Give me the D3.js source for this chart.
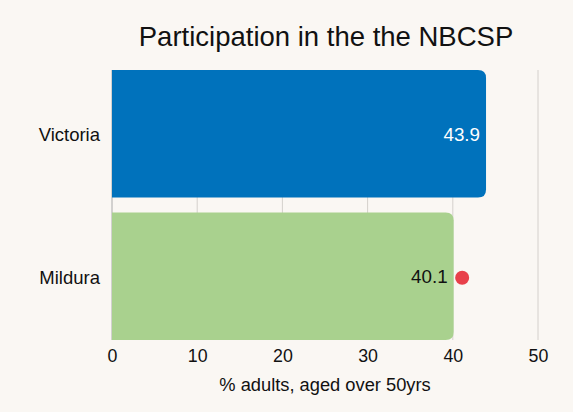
<!DOCTYPE html>
<html>
<head>
<meta charset="utf-8">
<script src="https://cdn.jsdelivr.net/npm/d3@7"></script>
<style>
  html, body { margin: 0; padding: 0; background: #faf7f3; }
  svg { display: block; font-family: "Liberation Sans", Arial, sans-serif; }
</style>
</head>
<body>
<svg id="chart" width="573" height="412"></svg>
<script>
var categories = ['Victoria', 'Mildura'];
var values = [43.9, 40.1];
var barColors = ['#0072bc', '#a9d18e'];
var labelColors = ['#ffffff', '#111111'];
var markerValue = 41.1;   // red dot next to Mildura
var xTicks = [0, 10, 20, 30, 40, 50];

var svg = d3.select('#chart');

var x = d3.scaleLinear().domain([0, 50]).range([112, 538]);
var y = d3.scaleBand().domain(categories).range([70, 340]).paddingInner(0.104).paddingOuter(0);

svg.append('rect').attr('width', 573).attr('height', 412).attr('fill', '#faf7f3');

// title
svg.append('text')
    .attr('x', 326).attr('y', 46)
    .attr('text-anchor', 'middle')
    .attr('font-size', 27.5)
    .attr('fill', '#111')
    .text('Participation in the the NBCSP');

// gridlines
svg.selectAll('line.grid')
    .data(xTicks)
    .enter()
    .append('line')
    .attr('class', 'grid')
    .attr('x1', function(d){ return x(d); })
    .attr('x2', function(d){ return x(d); })
    .attr('y1', 70).attr('y2', 340)
    .attr('stroke', function(d){ return d == 0 ? '#aaa' : '#d4d0cc'; })
    .attr('stroke-width', 1);

// bars, rounded on the right side only
var r = 8;
svg.selectAll('path.bar')
    .data(values)
    .enter()
    .append('path')
    .attr('class', 'bar')
    .attr('fill', function(d, i){ return barColors[i]; })
    .attr('d', function(d, i){
        var x0 = x(0), x1 = x(d), y0 = y(categories[i]), h = y.bandwidth();
        return 'M' + x0 + ',' + y0 +
               'H' + (x1 - r) +
               'Q' + x1 + ',' + y0 + ' ' + x1 + ',' + (y0 + r) +
               'V' + (y0 + h - r) +
               'Q' + x1 + ',' + (y0 + h) + ' ' + (x1 - r) + ',' + (y0 + h) +
               'H' + x0 + 'Z';
    });

// value labels
svg.selectAll('text.val')
    .data(values)
    .enter()
    .append('text')
    .attr('class', 'val')
    .attr('x', function(d){ return x(d) - 6; })
    .attr('y', function(d, i){ return y(categories[i]) + y.bandwidth() / 2 + 7; })
    .attr('text-anchor', 'end')
    .attr('font-size', 18.8)
    .attr('fill', function(d, i){ return labelColors[i]; })
    .text(function(d){ return d.toFixed(1); });

// marker
svg.append('circle')
    .attr('cx', x(markerValue))
    .attr('cy', y('Mildura') + y.bandwidth() / 2 + 1.5)
    .attr('r', 7)
    .attr('fill', '#e8404a');

// category labels
svg.selectAll('text.cat')
    .data(categories)
    .enter()
    .append('text')
    .attr('class', 'cat')
    .attr('x', 100)
    .attr('y', function(d){ return y(d) + y.bandwidth() / 2 + 7.5; })
    .attr('text-anchor', 'end')
    .attr('font-size', 18.5)
    .attr('fill', '#111')
    .text(function(d){ return d; });

// x axis
var axis = svg.append('g')
    .attr('transform', 'translate(0,340)')
    .call(d3.axisBottom(x).tickValues(xTicks).tickSize(0).tickPadding(9));
axis.select('.domain').remove();
axis.selectAll('text')
    .attr('font-size', 17.8)
    .attr('font-family', '"Liberation Sans", Arial, sans-serif')
    .attr('fill', '#111');

svg.append('text')
    .attr('x', x(25)).attr('y', 390.5)
    .attr('text-anchor', 'middle')
    .attr('font-size', 18.3)
    .attr('fill', '#111')
    .text('% adults, aged over 50yrs');
</script>
</body>
</html>
